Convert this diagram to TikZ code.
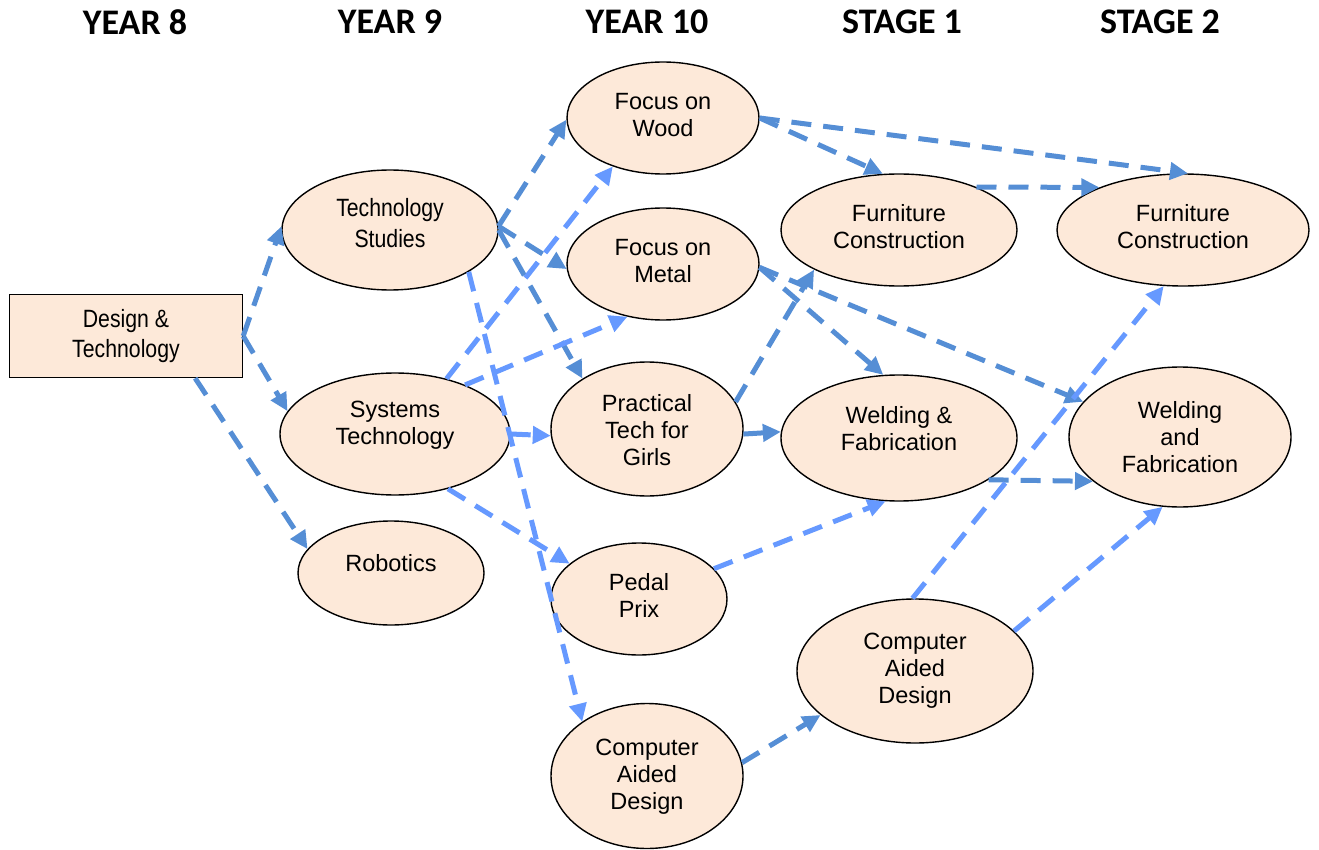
\documentclass[tikz,border=0pt]{standalone}
\usepackage{fontspec}
\setmainfont{Liberation Sans}
\newfontfamily\hdrfont{Carlito}
\newfontfamily\narrowfont{Liberation Sans}[FakeStretch=0.85]
\usetikzlibrary{shapes.geometric,arrows.meta,calc}
\definecolor{peach}{RGB}{253,233,217}
\definecolor{darkarr}{RGB}{85,142,213}
\definecolor{lightarr}{RGB}{102,153,255}
\begin{document}
\begin{tikzpicture}[x=1pt,y=-1pt,
  ell/.style={ellipse, draw=black, line width=1.4pt, fill=peach, inner sep=0pt},
  txt/.style={inner sep=0pt, align=center, font=\fontsize{23.5}{27}\selectfont},
  ntxt/.style={inner sep=0pt, align=center, font=\narrowfont\fontsize{25}{31}\selectfont},
  hdr/.style={font=\hdrfont\bfseries\fontsize{36}{40}\selectfont, inner sep=0pt},
  conn/.style={line width=5pt, dash pattern=on 20pt off 12pt, -{Triangle[length=18pt,width=17pt]}},
  dk/.style={conn, draw=darkarr},
  lt/.style={conn, draw=lightarr}]
\useasboundingbox (0,0) rectangle (1319,850);

% headers
\node[hdr] (h8)  at (135,22)  {YEAR 8};
\node[hdr] (h9)  at (390,22)  {YEAR 9};
\node[hdr] (h10) at (647,22)  {YEAR 10};
\node[hdr] (hs1) at (902,22)  {STAGE 1};
\node[hdr] (hs2) at (1160,22) {STAGE 2};

% shapes
\node[draw=black, line width=1.4pt, fill=peach, minimum width=233pt, minimum height=83pt,
  inner sep=0pt, align=center, font=\narrowfont\fontsize{25}{30}\selectfont] (DT) at (126,336) {Design \&\\Technology};
\node[ell, minimum width=216pt, minimum height=120pt] (TS) at (390,230) {};
\node[ell, minimum width=230pt, minimum height=122pt] (ST) at (395,434) {};
\node[ell, minimum width=186pt, minimum height=104pt] (Rob) at (391,573) {};
\node[ell, minimum width=192pt, minimum height=112pt] (FW) at (663,118) {};
\node[ell, minimum width=192pt, minimum height=112pt] (FM) at (663,264) {};
\node[ell, minimum width=192pt, minimum height=134pt] (PTG) at (647,429) {};
\node[ell, minimum width=176pt, minimum height=112pt] (PP) at (639,599) {};
\node[ell, minimum width=192pt, minimum height=145pt] (CAD10) at (647,776) {};
\node[ell, minimum width=236pt, minimum height=112pt] (FC1) at (899,230) {};
\node[ell, minimum width=236pt, minimum height=126pt] (WF1) at (899,438) {};
\node[ell, minimum width=236pt, minimum height=144pt] (CAD1) at (915,671) {};
\node[ell, minimum width=252pt, minimum height=112pt] (FC2) at (1183,230) {};
\node[ell, minimum width=222pt, minimum height=140pt] (WF2) at (1180,437) {};

% texts
\node[ntxt] (TSt) at ([yshift=7pt]TS.center) {Technology\\Studies};
\node[txt] (STt) at ([yshift=9pt]ST.center) {Systems\\Technology};
\node[txt] (Robt) at ([yshift=10pt]Rob.center) {Robotics};
\node[txt] (FWt) at ([yshift=3pt]FW.center) {Focus on\\Wood};
\node[txt] (FMt) at ([yshift=3pt]FM.center) {Focus on\\Metal};
\node[txt] (PTGt) at ([yshift=-1pt]PTG.center) {Practical\\Tech for\\Girls};
\node[txt] (PPt) at ([yshift=4pt]PP.center) {Pedal\\Prix};
\node[txt] (CAD10t) at ([yshift=-1pt]CAD10.center) {Computer\\Aided\\Design};
\node[txt] (FC1t) at ([yshift=3pt]FC1.center) {Furniture\\Construction};
\node[txt] (WF1t) at ([yshift=9pt]WF1.center) {Welding \&\\Fabrication};
\node[txt] (CAD1t) at ([yshift=0pt]CAD1.center) {Computer\\Aided\\Design};
\node[txt] (FC2t) at ([yshift=3pt]FC2.center) {Furniture\\Construction};
\node[txt] (WF2t) at ([yshift=0pt]WF2.center) {Welding\\and\\Fabrication};

% connectors
\draw[dk] (DT.east) -- (TS.178);
\draw[dk] (DT.east) -- (ST.168);
\draw[dk] ($(DT.south)!0.59!(DT.south east)$) -- (Rob.164);
\draw[dk] (TS.2) -- (FW.181);
\draw[dk] (TS.2) -- (FM.183);
\draw[dk] (TS.0) -- (PTG.142);
\draw[lt] (TS.-28) -- (CAD10.140);
\draw[lt] (ST.47) -- (FW.224);
\draw[lt] (ST.35) -- (FM.236);
\draw[lt] (ST.east) -- (PTG.184);
\draw[lt] (ST.314) -- (PP.153);
\draw[dk] (FW.east) -- (FC1.106);
\draw[dk] (FW.east) -- (FC2.85);
\draw[dk] (FM.358) -- (WF1.104);
\draw[dk] (FM.358) -- (WF2.160);
\draw[dk] (PTG.17) -- (FC1.205);
\draw[dk] (PTG.-3) -- (WF1.177);
\draw[lt] (PP.22) -- (WF1.258);
\draw[dk] (CAD10.8) -- (CAD1.205);
\draw[dk] (FC1.29) -- (FC2.153);
\draw[dk] (WF1.-25) -- (WF2.207);
\draw[lt] (CAD1.92) -- (FC2.251);
\draw[lt] (CAD1.22) -- (WF2.256);
\end{tikzpicture}
\end{document}
